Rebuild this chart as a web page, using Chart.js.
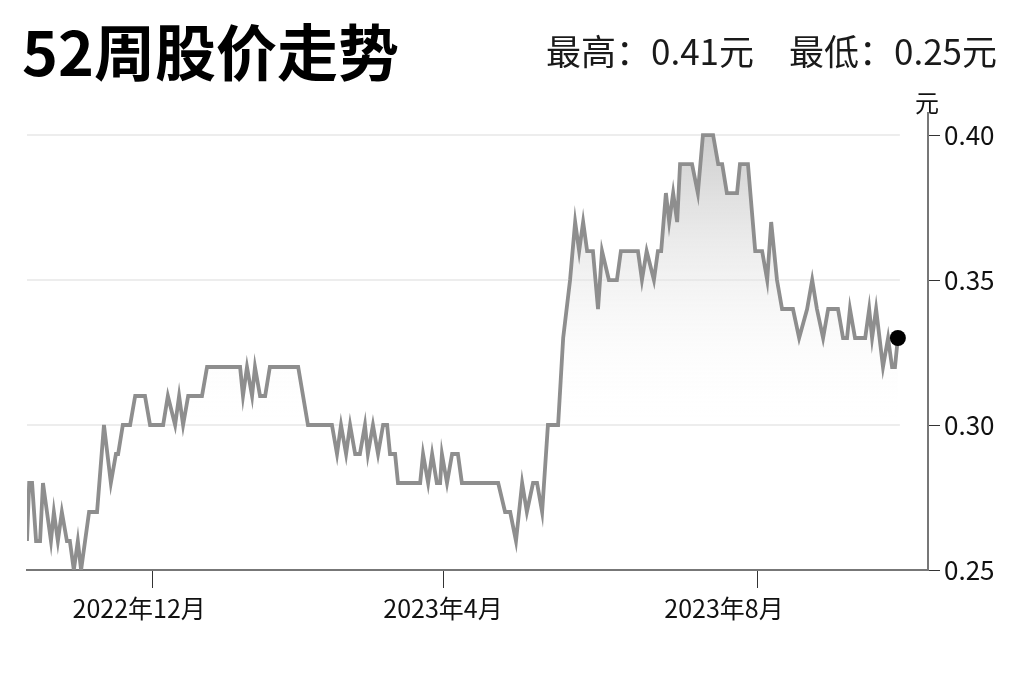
<!DOCTYPE html>
<html>
<head>
<meta charset="utf-8">
<script src="https://cdn.jsdelivr.net/npm/chart.js@4"></script>
<style>
  html, body { margin: 0; padding: 0; background: #fff; }
  #wrap { position: relative; width: 1024px; height: 682px; font-family: "Noto Sans CJK SC", "Noto Sans", sans-serif; }
  #title { position: absolute; left: 22px; top: 19px; font-size: 61px; line-height: 1; font-weight: bold; color: #000; white-space: nowrap; }
  #hilo { position: absolute; right: 27px; top: 32px; font-size: 35px; line-height: 1; color: #1a1a1a; white-space: nowrap; }
  canvas { position: absolute; left: 0; top: 0; }
</style>
</head>
<body>
<div id="wrap">
  <canvas id="priceChart" width="1024" height="682"></canvas>
  <div id="title"></div>
  <div id="hilo"></div>
</div>
<script>
const titleText = '52周股价走势';
const highText = '最高：0.41元';
const lowText = '最低：0.25元';
const unitText = '元';

// 交易日序号（从起点算）和收盘价
const dayIdx = [
    0, 0.6, 1.4, 2.5, 3.6, 4.4, 6.6, 7.4, 8.5, 9.6,
    11.0, 11.8, 12.9, 14.0, 14.9, 17.1, 19.3, 21.2, 23.1, 24.5,
    25.1, 26.4, 28.4, 29.8, 32.5, 33.9, 37.5, 38.8, 40.8, 41.9,
    43.0, 44.4, 48.2, 49.6, 58.7, 59.5, 60.6, 62.0, 62.8, 64.2,
    65.6, 66.9, 74.7, 77.4, 84.0, 85.4, 86.5, 87.9, 89.0, 90.4,
    91.7, 93.1, 93.9, 95.3, 96.7, 98.1, 99.2, 100.0, 101.4, 102.2,
    108.3, 109.1, 110.5, 111.6, 112.9, 113.8, 114.3, 115.7, 117.1, 118.7,
    119.8, 129.8, 131.7, 133.1, 134.7, 136.4, 137.7, 139.4, 140.5, 141.9,
    143.5, 146.3, 147.7, 149.6, 151.0, 152.1, 153.2, 154.3, 155.9, 157.3,
    158.4, 160.3, 162.5, 163.6, 168.3, 169.4, 170.7, 172.7, 173.8, 174.7,
    176.0, 176.9, 178.0, 179.1, 179.9, 183.2, 184.8, 186.2, 189.0, 190.4,
    191.5, 192.8, 195.6, 196.4, 198.6, 200.6, 202.5, 203.9, 205.0, 206.6,
    208.0, 211.0, 212.7, 214.9, 216.3, 217.6, 219.3, 220.7, 223.4, 224.8,
    225.9, 226.7, 228.1, 230.9, 232.0, 232.8, 233.9, 235.8, 237.2, 238.3,
    239.1, 239.9
];
const prices = [
    0.26, 0.28, 0.28, 0.26, 0.26, 0.28, 0.26, 0.27, 0.26, 0.27,
    0.26, 0.26, 0.25, 0.26, 0.25, 0.27, 0.27, 0.30, 0.28, 0.29,
    0.29, 0.30, 0.30, 0.31, 0.31, 0.30, 0.30, 0.31, 0.30, 0.31,
    0.30, 0.31, 0.31, 0.32, 0.32, 0.31, 0.32, 0.31, 0.32, 0.31,
    0.31, 0.32, 0.32, 0.30, 0.30, 0.29, 0.30, 0.29, 0.30, 0.29,
    0.29, 0.30, 0.29, 0.30, 0.29, 0.30, 0.30, 0.29, 0.29, 0.28,
    0.28, 0.29, 0.28, 0.29, 0.28, 0.28, 0.29, 0.28, 0.29, 0.29,
    0.28, 0.28, 0.27, 0.27, 0.26, 0.28, 0.27, 0.28, 0.28, 0.27,
    0.30, 0.30, 0.33, 0.35, 0.37, 0.36, 0.37, 0.36, 0.36, 0.34,
    0.36, 0.35, 0.35, 0.36, 0.36, 0.35, 0.36, 0.35, 0.36, 0.36,
    0.38, 0.37, 0.38, 0.37, 0.39, 0.39, 0.38, 0.40, 0.40, 0.39,
    0.39, 0.38, 0.38, 0.39, 0.39, 0.36, 0.36, 0.35, 0.37, 0.35,
    0.34, 0.34, 0.33, 0.34, 0.35, 0.34, 0.33, 0.34, 0.34, 0.33,
    0.33, 0.34, 0.33, 0.33, 0.34, 0.33, 0.34, 0.32, 0.33, 0.32,
    0.32, 0.33
];

const monthTickDays = [34.7, 114.6, 201.1];
const monthLabelDays = [30.9, 114.6, 192.0];
const monthLabels = ['2022年12月', '2023年4月', '2023年8月'];
const yTicks = [0.25, 0.30, 0.35, 0.40];
const gridValues = [0.30, 0.35, 0.40];

const fontFamily = '"Noto Sans CJK SC", "Noto Sans", sans-serif';

document.getElementById('title').textContent = titleText;
document.getElementById('hilo').textContent = highText + '　' + lowText;

const points = dayIdx.map((d, i) => ({ x: d, y: prices[i] }));
const lastIdx = points.length - 1;

const overlay = {
    id: 'overlay',
    beforeDatasetsDraw(chart) {
        const { ctx, chartArea, scales } = chart;
        const xEnd = scales.x.getPixelForValue(dayIdx[lastIdx]) + 2;
        ctx.save();
        ctx.strokeStyle = '#ededed';
        ctx.lineWidth = 2;
        gridValues.forEach(v => {
            const y = scales.y.getPixelForValue(v);
            ctx.beginPath();
            ctx.moveTo(chartArea.left, y);
            ctx.lineTo(xEnd, y);
            ctx.stroke();
        });
        ctx.restore();
    },
    afterDraw(chart) {
        const { ctx, chartArea, scales } = chart;
        ctx.save();
        ctx.fillStyle = '#111';
        ctx.font = '25px ' + fontFamily;
        ctx.textAlign = 'center';
        ctx.textBaseline = 'middle';
        monthLabels.forEach((label, i) => {
            ctx.fillText(label, scales.x.getPixelForValue(monthLabelDays[i]), chartArea.bottom + 38);
        });
        ctx.font = '24px ' + fontFamily;
        ctx.fillText(unitText, chartArea.right - 1, chartArea.top - 10);
        ctx.restore();
    }
};

new Chart(document.getElementById('priceChart').getContext('2d'), {
    type: 'line',
    data: {
        datasets: [{
            data: points,
            borderColor: '#8e8e8e',
            borderWidth: 3.8,
            tension: 0,
            fill: 'start',
            backgroundColor: (context) => {
                const { chart } = context;
                const { ctx, chartArea, scales } = chart;
                if (!chartArea) return 'rgba(0,0,0,0)';
                const top = scales.y.getPixelForValue(0.40);
                const bottom = scales.y.getPixelForValue(0.30);
                const g = ctx.createLinearGradient(0, top, 0, bottom);
                g.addColorStop(0, 'rgba(200,200,200,0.9)');
                g.addColorStop(1, 'rgba(255,255,255,0)');
                return g;
            },
            pointRadius: points.map((p, i) => i === lastIdx ? 8 : 0),
            pointBackgroundColor: '#000',
            pointBorderWidth: 0,
            pointHoverRadius: 0
        }]
    },
    options: {
        responsive: false,
        animation: false,
        devicePixelRatio: 1,
        layout: { padding: { left: 27, top: 113, right: 0, bottom: 0 } },
        plugins: {
            legend: { display: false },
            tooltip: { enabled: false }
        },
        scales: {
            x: {
                type: 'linear',
                min: 0,
                max: 248.2,
                border: { display: true, color: '#777', width: 2 },
                grid: { drawOnChartArea: false, drawTicks: true, tickLength: 18, tickColor: '#333', tickWidth: 1 },
                ticks: { display: false },
                afterBuildTicks: scale => { scale.ticks = monthTickDays.map(v => ({ value: v })); },
                afterFit: scale => { scale.height = 112; }
            },
            y: {
                position: 'right',
                min: 0.25,
                max: 0.4076,
                border: { display: true, color: '#777', width: 2 },
                grid: { drawOnChartArea: false, tickLength: 12, tickColor: '#333', tickWidth: 1 },
                ticks: {
                    padding: 4,
                    color: '#111',
                    font: { size: 26, family: fontFamily },
                    callback: v => v.toFixed(2)
                },
                afterBuildTicks: scale => { scale.ticks = yTicks.map(v => ({ value: v })); },
                afterFit: scale => { scale.width = 96; }
            }
        }
    },
    plugins: [overlay]
});
</script>
</body>
</html>
